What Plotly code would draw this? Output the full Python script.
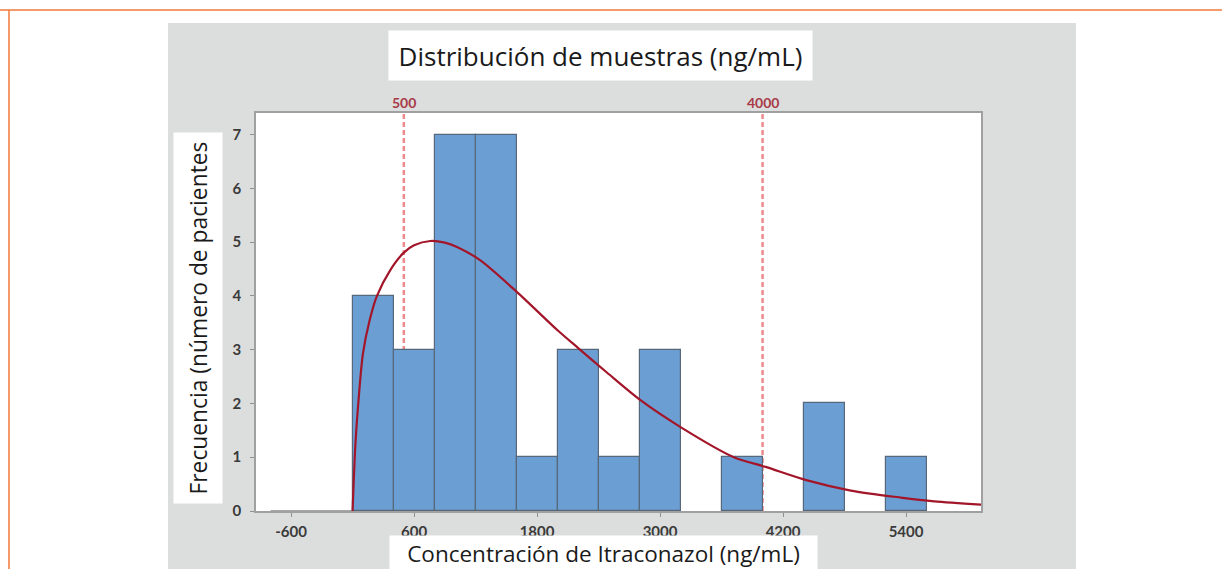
import plotly.graph_objects as go

# ---- data ----
bin_width = 400
bin_starts = [-800, -400, 0, 400, 800, 1200, 1600, 2000, 2400, 2800, 3200, 3600, 4000, 4400, 4800, 5200]
counts     = [0,    0,    4, 3,   7,   7,    1,    3,    1,    3,    0,    1,    0,    2,    0,    1]

curve_x = [0, 26, 43, 101, 166, 238, 368, 498, 600, 759, 900, 1019, 1247, 1605, 2000, 2207, 2484,
           2809, 3200, 3720, 4031, 4436, 4861, 5349, 5675, 6135]
curve_y = [0, 1.18, 1.68, 2.92, 3.54, 4.0, 4.48, 4.80, 4.94, 5.02, 4.99, 4.91, 4.66, 4.07, 3.36, 3.02, 2.57,
           2.06, 1.56, 1.00, 0.82, 0.57, 0.38, 0.25, 0.18, 0.12]

ref_lines = [500, 4000]
ref_labels = ["500", "4000"]

x_ticks = [-600, 600, 1800, 3000, 4200, 5400]
y_ticks = [0, 1, 2, 3, 4, 5, 6, 7]

title_text = "Distribución de muestras (ng/mL)"
x_title = "Concentración de Itraconazol (ng/mL)"
y_title = "Frecuencia (número de pacientes"

# ---- figure ----
W, H = 1222, 569
L, R, T, B = 256, 981, 113, 511  # plot area in pixels
pw, ph = R - L, B - T

def px(xp):
    return (xp - L) / pw

def py(yp):
    return (B - yp) / ph

FONT = "Lato"
TFONT = "Open Sans"

centers = [s + bin_width / 2 for s in bin_starts]
nz_x = [c for c, n in zip(centers, counts) if n > 0]
nz_y = [n for n in counts if n > 0]
zero_x = [s for s, n in zip(bin_starts, counts) if n == 0 and s < 0]

fig = go.Figure()

# zero-height bins drawn as a flat line at y=0
if zero_x:
    fig.add_trace(go.Scatter(
        x=[min(zero_x), max(zero_x) + bin_width], y=[0, 0], mode="lines",
        line=dict(color="#8a8a8a", width=1.5), hoverinfo="skip", showlegend=False))

fig.add_trace(go.Bar(
    x=nz_x, y=nz_y, width=bin_width,
    marker=dict(color="#6b9fd3", line=dict(color="#56687a", width=1.2)),
    showlegend=False))

fig.add_trace(go.Scatter(
    x=curve_x, y=curve_y, mode="lines",
    line=dict(color="#a3162a", width=2.2, shape="spline", smoothing=0.8),
    showlegend=False, hoverinfo="skip"))

shapes = [
    # grey panel
    dict(type="rect", xref="paper", yref="paper", x0=px(168), x1=px(1076), y0=py(569), y1=py(23),
         fillcolor="#dcdedd", line=dict(width=0), layer="below"),
    # white plot area
    dict(type="rect", xref="paper", yref="paper", x0=0, x1=1, y0=0, y1=1,
         fillcolor="white", line=dict(width=0), layer="below"),
    # orange frame
    dict(type="line", xref="paper", yref="paper", x0=px(0), x1=px(1222), y0=py(10), y1=py(10),
         line=dict(color="#f07a3c", width=1.5)),
    dict(type="line", xref="paper", yref="paper", x0=px(9), x1=px(9), y0=py(10), y1=py(569),
         line=dict(color="#f07a3c", width=1.5)),
]
for v in ref_lines:
    shapes.append(dict(type="line", xref="x", yref="paper", x0=v, x1=v, y0=0, y1=1,
                       line=dict(color="#f08a8a", width=2.5, dash="5px,3px"), layer="below"))

annotations = [
    dict(text=title_text, xref="paper", yref="paper", x=px(600.5), y=py(55.5),
         showarrow=False, font=dict(family=TFONT, size=26, color="#1a1a1a"),
         bgcolor="white", width=421, height=47, xanchor="center", yanchor="middle"),
    dict(text=y_title, xref="paper", yref="paper", x=px(198), y=py(318),
         showarrow=False, textangle=-90, font=dict(family=TFONT, size=22.8, color="#1a1a1a"),
         bgcolor="white", width=368, height=46, xanchor="center", yanchor="middle"),
    dict(text=x_title, xref="paper", yref="paper", x=px(603.5), y=py(553),
         showarrow=False, font=dict(family=TFONT, size=22.5, color="#1a1a1a"),
         bgcolor="white", width=425, height=32, xanchor="center", yanchor="middle"),
]
for v, lab in zip(ref_lines, ref_labels):
    annotations.append(dict(text=lab, xref="x", yref="paper", x=v, y=py(102),
                            showarrow=False, font=dict(family=FONT, size=14, color="#a83a48", weight="bold"),
                            xanchor="center", yanchor="middle"))

fig.update_layout(
    width=W, height=H,
    margin=dict(l=L, r=W - R, t=T, b=H - B, pad=0),
    paper_bgcolor="white", plot_bgcolor="white",
    bargap=0, showlegend=False,
    shapes=shapes, annotations=annotations,
    font=dict(family=FONT),
)
fig.update_xaxes(
    range=[-942, 6131], tickvals=x_ticks, ticktext=[str(t) for t in x_ticks],
    showgrid=False, zeroline=False, showline=True, mirror=True, linecolor="#a0a0a0", linewidth=1.5,
    ticks="outside", ticklen=4, tickcolor="#909090",
    tickfont=dict(family=FONT, size=15, color="#3a3a3a", weight="bold"), ticklabelstandoff=2,
)
fig.update_yaxes(
    range=[0, 7.4], tickvals=y_ticks,
    showgrid=False, zeroline=False, showline=True, mirror=True, linecolor="#a0a0a0", linewidth=1.5,
    ticks="outside", ticklen=4, tickcolor="#909090",
    tickfont=dict(family=FONT, size=15, color="#3a3a3a", weight="bold"), ticklabelstandoff=6,
)

fig.write_html("out.html", config={"displayModeBar": False},
               post_script="document.body.style.margin='0';document.body.style.padding='0';")
